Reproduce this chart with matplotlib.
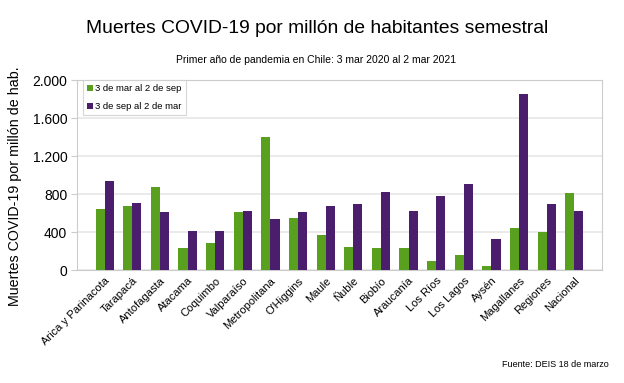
import matplotlib.pyplot as plt
import matplotlib.ticker as mticker
import numpy as np

plt.rcParams['font.family'] = ['Liberation Sans', 'DejaVu Sans']

regiones = ['Arica y Parinacota', 'Tarapacá', 'Antofagasta', 'Atacama', 'Coquimbo',
            'Valparaíso', 'Metropolitana', "O'Higgins", 'Maule', 'Ñuble', 'Biobío',
            'Araucanía', 'Los Ríos', 'Los Lagos', 'Aysén', 'Magallanes', 'Regiones',
            'Nacional']
primer_semestre = [639, 674, 870, 232, 284, 607, 1397, 551, 372, 244, 232, 228,
                   91, 158, 42, 442, 397, 811]
segundo_semestre = [940, 702, 607, 414, 414, 618, 537, 607, 674, 695, 821, 621,
                    779, 905, 326, 1857, 691, 625]

verde = '#58A01E'
morado = '#4A1E6C'

fig = plt.figure(figsize=(6.24, 3.83), dpi=100)
ax = fig.add_axes([0.1234, 0.295, 0.8413, 0.496])

x = np.arange(len(regiones))
w = 0.33
ax.bar(x - w / 2, primer_semestre, w, color=verde, label='3 de mar al 2 de sep', zorder=3)
ax.bar(x + w / 2, segundo_semestre, w, color=morado, label='3 de sep al 2 de mar', zorder=3)

ax.set_xlim(-1, len(regiones))
ax.set_ylim(0, 2000)
ax.set_yticks([0, 400, 800, 1200, 1600, 2000])
ax.yaxis.set_major_formatter(mticker.FuncFormatter(lambda v, p: f'{int(v):,}'.replace(',', '.')))
ax.tick_params(axis='y', labelsize=10, length=4, color='#cccccc', pad=3)
ax.set_xticks(x)
ax.set_xticklabels(regiones, rotation=45, ha='right', rotation_mode='anchor', fontsize=8)
ax.tick_params(axis='x', length=0, pad=4)
ax.grid(axis='y', color='#e6e6e6', linewidth=1.2, zorder=0)
for s in ax.spines.values():
    s.set_color('#cccccc')

ax.set_ylabel('Muertes COVID-19 por millón de hab.', fontsize=10.3)
ax.yaxis.set_label_coords(-0.104, 0.44)

leg = ax.legend(loc='upper left', fontsize=6.8, handlelength=0.6, handleheight=0.6,
                handletextpad=0.3, borderpad=0.45, labelspacing=0.95, fancybox=False,
                edgecolor='#cccccc', bbox_to_anchor=(0.0, 1.03), borderaxespad=0.6)
leg.get_frame().set_linewidth(0.8)

fig.text(0.508, 0.925, 'Muertes COVID-19 por millón de habitantes semestral',
         ha='center', va='center', fontsize=13.9)
fig.text(0.507, 0.843, 'Primer año de pandemia en Chile: 3 mar 2020 al 2 mar 2021',
         ha='center', va='center', fontsize=7.5)
fig.text(0.975, 0.047, 'Fuente: DEIS 18 de marzo', ha='right', va='center', fontsize=6.5)

fig.savefig('out.png', dpi=100)
